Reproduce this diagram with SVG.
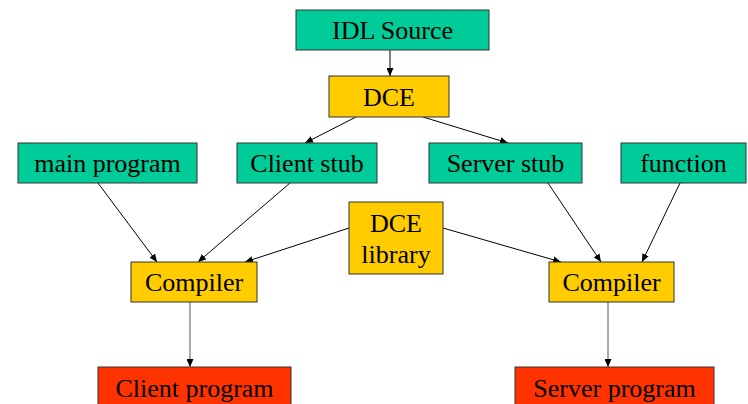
<svg xmlns="http://www.w3.org/2000/svg" width="748" height="404" viewBox="0 0 748 404">
<style>
  .box { stroke: #333333; stroke-width: 1; }
  .g { fill: #00CC99; }
  .y { fill: #FFCC00; }
  .r { fill: #FF3300; }
  text { font-family: "Liberation Serif", "Times New Roman", serif; font-size: 26px; fill: #000000; text-anchor: middle; }
  .c line { stroke: #000000; stroke-width: 1; marker-end: url(#ah); }
  .c line.gray { stroke: #555555; }
</style>
<defs>
  <marker id="ah" markerUnits="userSpaceOnUse" markerWidth="9" markerHeight="7" refX="8" refY="3.5" orient="auto">
    <path d="M0,0 L8,3.5 L0,7 z" fill="#000000"/>
  </marker>
</defs>
<rect width="748" height="404" fill="#ffffff"/>
<g id="connectors" class="c">
  <line x1="390" y1="50" x2="390" y2="76"/>
  <line x1="356" y1="117" x2="305" y2="143"/>
  <line x1="423" y1="117" x2="508" y2="143"/>
  <line x1="98" y1="183" x2="157" y2="262"/>
  <line x1="290" y1="183" x2="198" y2="262"/>
  <line x1="349" y1="228" x2="245" y2="262"/>
  <line x1="443" y1="228" x2="561" y2="262"/>
  <line x1="548" y1="183" x2="601" y2="262"/>
  <line x1="680" y1="183" x2="642" y2="262"/>
  <line class="gray" x1="190" y1="302" x2="190" y2="367"/>
  <line class="gray" x1="608" y1="302" x2="608" y2="367"/>
</g>
<g id="idl-source">
  <rect class="box g" x="296" y="10" width="193" height="40"/>
  <text x="392.5" y="39">IDL Source</text>
</g>
<g id="dce">
  <rect class="box y" x="329" y="76" width="120" height="41"/>
  <text x="389" y="106">DCE</text>
</g>
<g id="main-program">
  <rect class="box g" x="18" y="143" width="179" height="40"/>
  <text x="107.5" y="172">main program</text>
</g>
<g id="client-stub">
  <rect class="box g" x="237" y="143" width="140" height="40"/>
  <text x="307" y="172">Client stub</text>
</g>
<g id="server-stub">
  <rect class="box g" x="429" y="143" width="153" height="40"/>
  <text x="505.5" y="172">Server stub</text>
</g>
<g id="function">
  <rect class="box g" x="621" y="143" width="125" height="40"/>
  <text x="683.5" y="172">function</text>
</g>
<g id="dce-library">
  <rect class="box y" x="349" y="202" width="94" height="72"/>
  <text x="396" y="232">DCE</text>
  <text x="396" y="263">library</text>
</g>
<g id="compiler-left">
  <rect class="box y" x="131" y="262" width="126" height="40"/>
  <text x="194" y="291">Compiler</text>
</g>
<g id="compiler-right">
  <rect class="box y" x="549" y="262" width="125" height="40"/>
  <text x="611.5" y="291">Compiler</text>
</g>
<g id="client-program">
  <rect class="box r" x="98" y="367" width="193" height="40"/>
  <text x="194.5" y="397">Client program</text>
</g>
<g id="server-program">
  <rect class="box r" x="515" y="367" width="199" height="40"/>
  <text x="614.5" y="397">Server program</text>
</g>
</svg>
